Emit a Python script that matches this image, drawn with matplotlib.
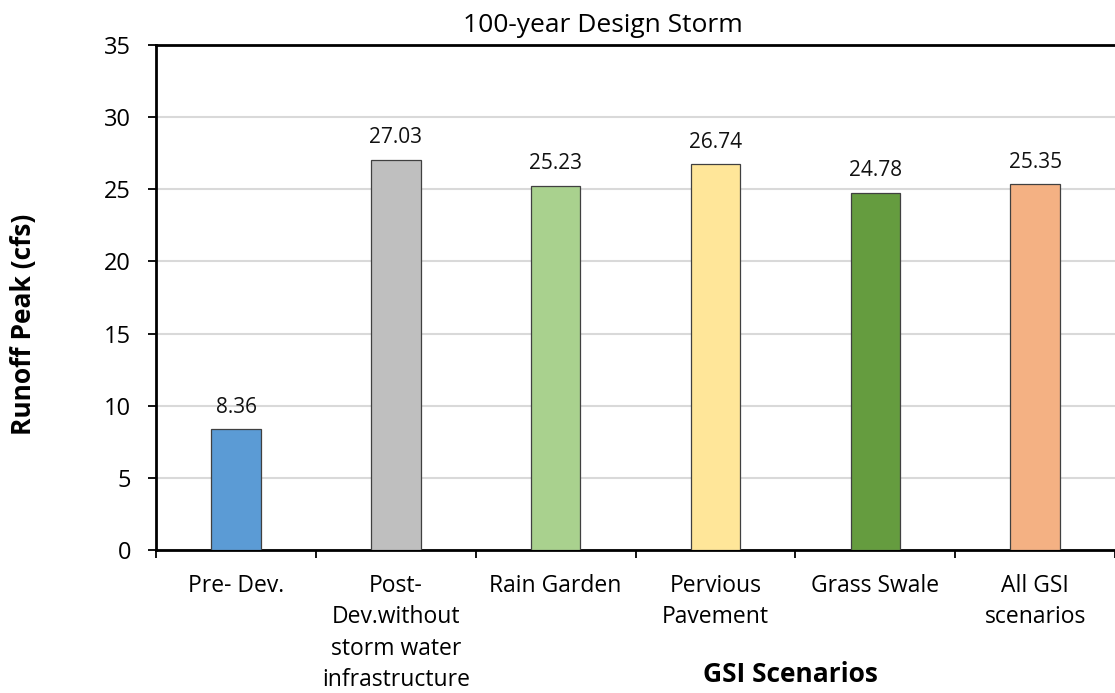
import matplotlib
matplotlib.use("Agg")
import matplotlib.pyplot as plt
import numpy as np

plt.rcParams['font.family'] = ['Open Sans', 'DejaVu Sans']

categories = ["Pre- Dev.", "Post-\nDev.without\nstorm water\ninfrastructure", "Rain Garden",
              "Pervious\nPavement", "Grass Swale", "All GSI\nscenarios"]
peaks = [8.36, 27.03, 25.23, 26.74, 24.78, 25.35]
colors = ["#5B9BD5", "#BFBFBF", "#A9D18E", "#FFE699", "#659C3F", "#F4B183"]
y_ticks = [0, 5, 10, 15, 20, 25, 30, 35]

fig = plt.figure(figsize=(11.15, 6.93), dpi=100)
ax = fig.add_axes([0.14, 0.2063, 0.86, 0.7287])

x = np.arange(len(categories))
ax.bar(x, peaks, width=0.31, color=colors, edgecolor="#404040", linewidth=0.9, zorder=3)
for xi, v in zip(x, peaks):
    ax.annotate(f"{v:.2f}", xy=(xi, v), xytext=(0, 12), textcoords="offset points",
                ha="center", va="baseline", fontsize=15, color="#111111")

ax.set_xlim(-0.5, len(categories) - 0.5)
ax.set_ylim(0, 35)
ax.set_yticks(y_ticks)
ax.tick_params(axis="y", labelsize=17, length=6, width=1.3, pad=12, direction="out")
ax.set_xticks(x)
ax.set_xticklabels(categories, fontsize=16.5, linespacing=1.42)
ax.set_xticks(np.arange(-0.5, len(categories) + 0.5, 1.0), minor=True)
ax.tick_params(axis="x", which="major", length=0, pad=17)
ax.tick_params(axis="x", which="minor", length=6, width=1.3, direction="out")

ax.yaxis.grid(True, color="#D9D9D9", linewidth=1.5, zorder=0)
ax.set_axisbelow(True)
for side in ["left", "bottom", "top"]:
    ax.spines[side].set_linewidth(2)
    ax.spines[side].set_color("black")
ax.spines["right"].set_visible(False)

fig.text(0.541, 0.963, "100-year Design Storm", ha="center", va="center", fontsize=19)
fig.text(0.0215, 0.532, "Runoff Peak (cfs)", rotation=90, ha="center", va="center",
         fontsize=19, fontweight="bold")
fig.text(0.709, 0.026, "GSI Scenarios", ha="center", va="center", fontsize=19, fontweight="bold")

fig.savefig("out.png", dpi=100)
